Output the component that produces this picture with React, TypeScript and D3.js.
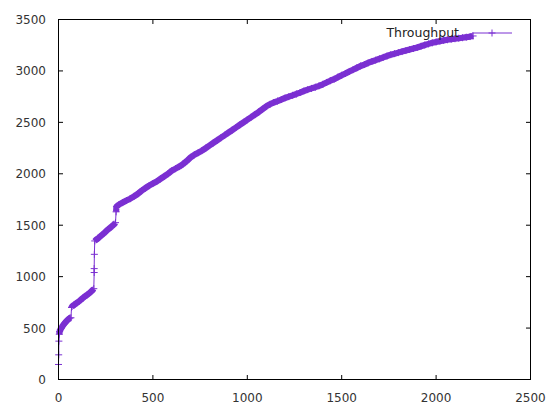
import React from "react";
import * as d3 from "d3";

// elapsed time vs. cumulative throughput
const timeSec = [
  0, 1, 2, 4, 6, 10, 15, 20, 25, 30, 35, 40, 45, 50, 55, 60, 66,
  69, 72, 80, 90, 100, 110, 120, 130, 140, 150, 160, 170, 180, 187,
  189, 189, 190, 192, 200, 210, 220, 240, 260, 280, 295, 302,
  305, 307, 320, 340, 360, 380, 400, 420, 440, 460, 480, 500, 520, 540, 560,
  580, 600, 620, 640, 660, 680, 700, 720, 740, 760, 780, 800, 820, 840, 860, 880,
  900, 920, 940, 960, 980, 1000, 1020, 1040, 1060, 1080, 1100, 1120, 1140, 1160,
  1180, 1200, 1220, 1240, 1260, 1280, 1300, 1320, 1340, 1360, 1380, 1400, 1420,
  1440, 1460, 1480, 1500, 1520, 1540, 1560, 1580, 1600, 1620, 1640, 1660, 1680,
  1700, 1720, 1740, 1760, 1780, 1800, 1820, 1840, 1860, 1880, 1900, 1920, 1940,
  1960, 1980, 2000, 2020, 2040, 2060, 2080, 2100, 2120, 2140, 2160, 2180, 2196,
];
const throughput = [
  146, 240, 373, 440, 465, 485, 500, 515, 528, 540, 552, 563, 573, 582, 590, 597, 600,
  700, 710, 722, 735, 748, 762, 778, 793, 808, 820, 835, 850, 868, 883,
  1040, 1078, 1217, 1347, 1360, 1372, 1390, 1420, 1455, 1485, 1510, 1525,
  1630, 1680, 1700, 1720, 1740, 1758, 1780, 1805, 1835, 1860, 1885, 1905, 1925, 1950, 1975,
  2000, 2030, 2050, 2070, 2095, 2125, 2160, 2185, 2205, 2225, 2250, 2275, 2300, 2325, 2350, 2375,
  2400, 2425, 2450, 2475, 2500, 2525, 2550, 2575, 2600, 2628, 2655, 2676, 2693, 2707,
  2722, 2737, 2750, 2763, 2776, 2790, 2805, 2818, 2830, 2842, 2855, 2870, 2888,
  2905, 2920, 2940, 2958, 2975, 2995, 3012, 3030, 3048, 3062, 3078, 3092, 3105,
  3118, 3132, 3145, 3158, 3168, 3178, 3188, 3198, 3208, 3218, 3228, 3240, 3252,
  3263, 3273, 3282, 3290, 3297, 3303, 3308, 3313, 3318, 3323, 3328, 3334, 3340,
];
const xTicks = [0, 500, 1000, 1500, 2000, 2500];
const yTicks = [0, 500, 1000, 1500, 2000, 2500, 3000, 3500];
const seriesName = "Throughput";

const W = 552;
const H = 407;
const left = 58.5, right = 530.5, top = 19.5, bottom = 379.5;
const color = "#7b30d2";
const font = "'DejaVu Sans', sans-serif";

export default function App() {
  const x = d3.scaleLinear().domain([0, 2500]).range([left, right]);
  const y = d3.scaleLinear().domain([0, 3500]).range([bottom, top]);

  const pts: [number, number][] = timeSec.map((t, i) => [x(t), y(throughput[i])]);
  const line = d3.line();

  // dense stretches of overlapping markers look like a thick band
  const runs: [number, number][][] = [];
  let cur: [number, number][] = [];
  for (let i = 1; i < pts.length; i++) {
    const d = Math.hypot(pts[i][0] - pts[i - 1][0], pts[i][1] - pts[i - 1][1]);
    if (d < 6.5) {
      if (cur.length === 0) cur.push(pts[i - 1]);
      cur.push(pts[i]);
    } else {
      if (cur.length >= 3) runs.push(cur);
      cur = [];
    }
  }
  if (cur.length >= 3) runs.push(cur);

  const plus = (px: number, py: number, k: number) => (
    <path key={k} d={`M${px - 3.5},${py}H${px + 3.5}M${px},${py - 3.5}V${py + 3.5}`}
      stroke={color} strokeWidth={1} fill="none" />
  );

  const keyY = 33;

  return (
    <svg width={W} height={H} style={{ position: "absolute", left: 0, top: 0, background: "#fff" }}>
      <rect x={0} y={0} width={W} height={H} fill="#fff" />
      {/* ticks, mirrored on all sides */}
      {xTicks.map((t) => (
        <g key={"x" + t}>
          <line x1={x(t)} x2={x(t)} y1={bottom} y2={bottom - 4.5} stroke="#000" />
          <line x1={x(t)} x2={x(t)} y1={top} y2={top + 4.5} stroke="#000" />
          <text x={x(t)} y={bottom + 22} textAnchor="middle" fontFamily={font} fontSize={12} fill="#333">{t}</text>
        </g>
      ))}
      {yTicks.map((t) => (
        <g key={"y" + t}>
          <line x1={left} x2={left + 4.5} y1={y(t)} y2={y(t)} stroke="#000" />
          <line x1={right} x2={right - 4.5} y1={y(t)} y2={y(t)} stroke="#000" />
          <text x={46} y={y(t) + 4.5} textAnchor="end" fontFamily={font} fontSize={12} fill="#333">{t}</text>
        </g>
      ))}

      {/* series */}
      <path d={line(pts) || ""} stroke={color} strokeWidth={1} fill="none" />
      {runs.map((r, i) => (
        <path key={"r" + i} d={line(r) || ""} stroke={color} strokeWidth={6.2} fill="none"
          strokeLinejoin="round" strokeLinecap="butt" />
      ))}
      {pts.map((p, i) => plus(p[0], p[1], i))}

      {/* key */}
      <text x={459} y={keyY + 4} textAnchor="end" fontFamily={font} fontSize={12.5} fill="#222">{seriesName}</text>
      <line x1={472} x2={512} y1={keyY} y2={keyY} stroke={color} strokeWidth={1} />
      {plus(492, keyY, -1)}

      <rect x={left} y={top} width={right - left} height={bottom - top} fill="none" stroke="#000" strokeWidth={1} />
    </svg>
  );
}
